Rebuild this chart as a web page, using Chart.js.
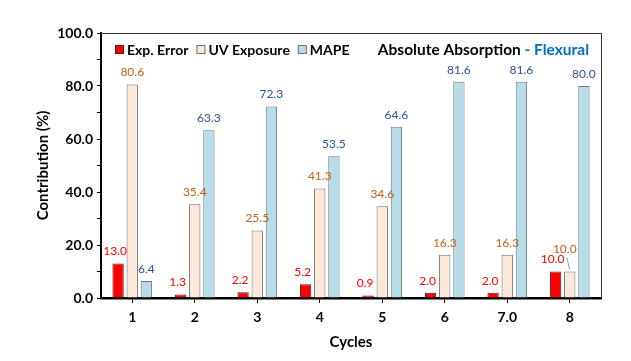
<!DOCTYPE html>
<html>
<head>
<meta charset="utf-8">
<script src="https://cdn.jsdelivr.net/npm/chart.js@4.4.1/dist/chart.umd.min.js"></script>
<style>
  html, body { margin: 0; padding: 0; background: #fff; }
  #wrap { width: 631px; height: 361px; }
</style>
</head>
<body>
<div id="wrap"><canvas id="chart" width="631" height="361"></canvas></div>
<script>
const cycles = ["1", "2", "3", "4", "5", "6", "7.0", "8"];
const expError = [13.0, 1.3, 2.2, 5.2, 0.9, 2.0, 2.0, 10.0];
const uvExposure = [80.6, 35.4, 25.5, 41.3, 34.6, 16.3, 16.3, 10.0];
const mape = [6.4, 63.3, 72.3, 53.5, 64.6, 81.6, 81.6, 80.0];
const yTicks = [0, 20, 40, 60, 80, 100];

const FONT = "Lato, 'Open Sans', sans-serif";

// value labels above each bar, plus the little leader line on cycle 8
const barLabels = {
  id: "barLabels",
  afterDatasetsDraw(chart) {
    const ctx = chart.ctx;
    const colors = ["#ff0000", "#c0621a", "#2f4f9a"];
    ctx.save();
    ctx.font = "12px " + FONT;
    ctx.textAlign = "center";
    ctx.textBaseline = "bottom";
    chart.data.datasets.forEach((ds, di) => {
      chart.getDatasetMeta(di).data.forEach((bar, i) => {
        let x = bar.x, y = bar.y - 6;
        if (di === 0) x -= 3;
        if (di === 1 && i === 7) {
          x -= 5; y -= 10;
          ctx.strokeStyle = "#999";
          ctx.lineWidth = 1;
          ctx.beginPath();
          ctx.moveTo(bar.x - 3, y + 2);
          ctx.lineTo(bar.x, bar.y - 2);
          ctx.stroke();
        }
        ctx.fillStyle = colors[di];
        ctx.fillText(ds.data[i].toFixed(1), x, y);
      });
    });
    ctx.restore();
  }
};

// frame, legend and title drawn inside the plot area
const overlay = {
  id: "overlay",
  afterDraw(chart) {
    const ctx = chart.ctx;
    const a = chart.chartArea;
    ctx.save();
    ctx.strokeStyle = "#333";
    ctx.lineWidth = 1;
    ctx.beginPath();
    ctx.moveTo(a.left, a.top + 0.5);
    ctx.lineTo(a.right + 0.5, a.top + 0.5);
    ctx.lineTo(a.right + 0.5, a.bottom);
    ctx.stroke();

    ctx.font = "bold 14px " + FONT;
    ctx.textBaseline = "middle";
    ctx.textAlign = "left";
    let x = a.left + 14;
    const y = a.top + 17;
    chart.data.datasets.forEach(ds => {
      ctx.fillStyle = ds.backgroundColor;
      ctx.fillRect(x, y - 5, 9, 9);
      ctx.strokeStyle = ds.borderColor;
      ctx.strokeRect(x + 0.5, y - 4.5, 8, 8);
      ctx.fillStyle = "#000";
      ctx.fillText(ds.label, x + 12, y);
      x += 12 + ctx.measureText(ds.label).width + 8;
    });

    ctx.font = "bold 15.5px " + FONT;
    ctx.textAlign = "right";
    const part2 = "- Flexural";
    ctx.fillStyle = "#0070c0";
    ctx.fillText(part2, a.right - 12, y);
    const w2 = ctx.measureText(part2).width;
    ctx.fillStyle = "#000";
    ctx.fillText("Absolute Absorption ", a.right - 12 - w2, y);
    ctx.restore();
  }
};

new Chart(document.getElementById("chart"), {
  type: "bar",
  data: {
    labels: cycles,
    datasets: [
      { label: "Exp. Error", data: expError, backgroundColor: "#ff0000", borderColor: "#5a1a1a", borderWidth: 1 },
      { label: "UV Exposure", data: uvExposure, backgroundColor: "#fde9d9", borderColor: "#6e6e6e", borderWidth: 1 },
      { label: "MAPE", data: mape, backgroundColor: "#b7dee8", borderColor: "#6e7a80", borderWidth: 1 }
    ]
  },
  options: {
    responsive: false,
    animation: false,
    devicePixelRatio: 1,
    layout: { padding: { left: 30, right: 30, top: 33, bottom: 6 } },
    datasets: { bar: { categoryPercentage: 0.68, barPercentage: 0.8 } },
    plugins: {
      legend: { display: false },
      tooltip: { enabled: false }
    },
    scales: {
      x: {
        grid: { display: true, drawOnChartArea: false, offset: false, tickLength: 5, color: "#000" },
        border: { display: true, color: "#000", width: 2.5 },
        ticks: { color: "#000", font: { family: FONT, size: 14, weight: "bold" }, padding: 6 },
        title: { display: true, text: "Cycles", color: "#000", font: { family: FONT, size: 15, weight: "bold" }, padding: { top: 4 } },
        afterFit(scale) { scale.height = 57; }
      },
      y: {
        min: 0,
        max: 100,
        afterBuildTicks(scale) {
          const t = [];
          for (let v = 0; v <= 100; v += 10) t.push({ value: v });
          scale.ticks = t;
        },
        grid: { display: true, drawOnChartArea: false, tickLength: 4, color: "#000" },
        border: { display: true, color: "#000", width: 2 },
        ticks: {
          color: "#000",
          font: { family: FONT, size: 14, weight: "bold" },
          padding: 4,
          callback: v => yTicks.includes(v) ? v.toFixed(1) : ""
        },
        title: { display: true, text: "Contribution (%)", color: "#000", font: { family: FONT, size: 15, weight: "bold" }, padding: { bottom: 6 } },
        afterFit(scale) { scale.width = 71; }
      }
    }
  },
  plugins: [barLabels, overlay]
});
</script>
</body>
</html>
